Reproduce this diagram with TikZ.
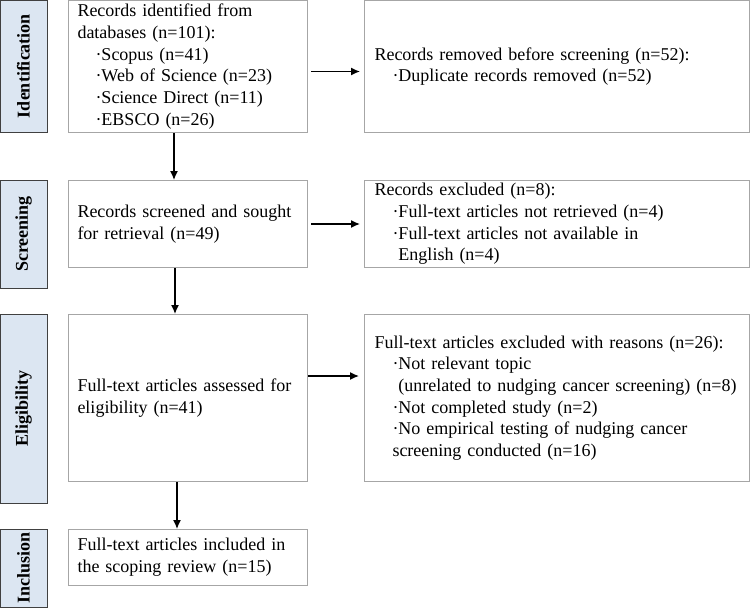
\documentclass[tikz,border=0pt]{standalone}
\usepackage{fontspec}
\setmainfont{Liberation Serif}
\usetikzlibrary{arrows.meta}
\definecolor{barfill}{HTML}{DCE6F2}
\definecolor{barline}{HTML}{404040}
\definecolor{boxline}{HTML}{A6A6A6}
\newcommand{\bul}{\hspace*{1em}·}
\begin{document}
\begin{tikzpicture}[x=1pt, y=-1pt, every node/.style={font=\fontsize{18}{21.7}\selectfont},
	phase/.style={draw=barline, line width=1pt, fill=barfill, rotate=90, minimum height=47pt, inner sep=0pt, font=\fontsize{18}{21.7}\selectfont\bfseries},
	leftbox/.style={draw=boxline, line width=1pt, anchor=north west, align=left, text width=221pt, inner xsep=9pt, inner ysep=0pt},
	rightbox/.style={draw=boxline, line width=1pt, anchor=north west, align=left, text width=365pt, inner xsep=10pt, inner ysep=0pt},
	arr/.style={-{Latex[length=9pt,width=8pt]}, line width=1.4pt}]
	\useasboundingbox (0,0) rectangle (750,608);
	\node[phase, minimum width=132pt] (pid) at (23.5,66) {Identification};
	\node[phase, minimum width=108pt] (psc) at (23.5,234) {Screening};
	\node[phase, minimum width=189pt] (pel) at (23.5,408.5) {Eligibility};
	\node[phase, minimum width=78pt] (pin) at (23.5,568) {Inclusion};
	\node[leftbox, minimum height=132pt] (recid) at (68,0) {Records identified from\\databases (n=101):\\\bul Scopus (n=41)\\\bul Web of Science (n=23)\\\bul Science Direct (n=11)\\\bul EBSCO (n=26)};
	\node[rightbox, minimum height=132pt] (recrem) at (364,0) {Records removed before screening (n=52):\\\bul Duplicate records removed (n=52)};
	\node[leftbox, minimum height=87pt] (screened) at (68,180) {Records screened and sought\\for retrieval (n=49)};
	\node[rightbox, minimum height=87pt] (recex) at (364,180) {Records excluded (n=8):\\\bul Full-text articles not retrieved (n=4)\\\bul Full-text articles not available in\\\hspace*{1em}\phantom{·}English (n=4)};
	\node[leftbox, minimum height=167pt] (assessed) at (68,314) {Full-text articles assessed for\\eligibility (n=41)};
	\node[rightbox, minimum height=167pt] (ftex) at (364,314) {Full-text articles excluded with reasons (n=26):\\\bul Not relevant topic\\\hspace*{1em}\phantom{·}(unrelated to nudging cancer screening) (n=8)\\\bul Not completed study (n=2)\\\bul No empirical testing of nudging cancer\\\hspace*{1em}screening conducted (n=16)};
	\node[leftbox, minimum height=56pt] (included) at (68,529) {Full-text articles included in\\the scoping review (n=15)};
	\draw[arr] ([xshift=3pt,yshift=-5pt]recid.east) -- ([xshift=-4pt,yshift=-5pt]recrem.west);
	\draw[arr] ([xshift=3pt]screened.east) -- ([xshift=-4pt]recex.west);
	\draw[arr] ([xshift=0pt,yshift=22pt]assessed.east) -- ([xshift=-5pt,yshift=22pt]ftex.west);
	\draw[arr] ([xshift=-14pt]recid.south) -- ([xshift=-14pt]screened.north);
	\draw[arr] ([xshift=-13pt]screened.south) -- ([xshift=-13pt]assessed.north);
	\draw[arr] ([xshift=-11pt]assessed.south) -- ([xshift=-11pt]included.north);
\end{tikzpicture}
\end{document}
